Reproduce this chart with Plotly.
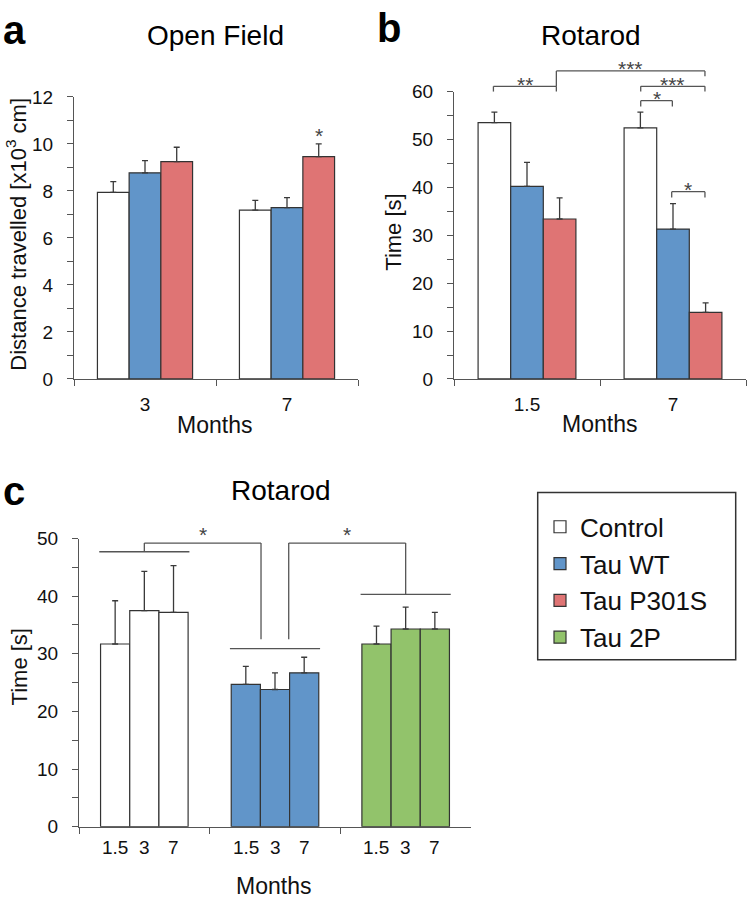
import plotly.graph_objects as go

# ---------------- data ----------------
genotypes_ab = ["Control", "Tau WT", "Tau P301S"]
months_a = ["3", "7"]
months_b = ["1.5", "7"]

openfield_mean = {"Control": [7.94, 7.18], "Tau WT": [8.77, 7.29], "Tau P301S": [9.25, 9.46]}
openfield_sem = {"Control": [0.46, 0.42], "Tau WT": [0.52, 0.43], "Tau P301S": [0.61, 0.54]}

rotarod_b_mean = {"Control": [53.5, 52.4], "Tau WT": [40.2, 31.3], "Tau P301S": [33.4, 13.9]}
rotarod_b_sem = {"Control": [2.2, 3.3], "Tau WT": [5.0, 5.3], "Tau P301S": [4.4, 2.0]}

genotypes_c = ["Control", "Tau WT", "Tau 2P"]
months_c = ["1.5", "3", "7"]
rotarod_c_mean = {"1.5": [31.7, 24.7, 31.7], "3": [37.5, 23.8, 34.3], "7": [37.2, 26.7, 34.3]}
rotarod_c_sem = {"1.5": [7.5, 3.1, 3.1], "3": [6.8, 2.9, 3.8], "7": [8.1, 2.7, 2.9]}

colors = {"Control": "#ffffff", "Tau WT": "#6195c9", "Tau P301S": "#df7474", "Tau 2P": "#92c36b"}

# ---------------- style ----------------
W, H = 750, 909
FONT = "Liberation Sans, Arial, sans-serif"
EDGE = "#333333"
AX = "#555555"
BARGAP = 0.33
BW = (1 - BARGAP) / 3  # bar width in category units


def px(x):
    return x / W


def py(y):
    return 1 - y / H


fig = go.Figure()

err_style = dict(type="data", symmetric=False, color="#3a3a3a", thickness=1.3, width=3)

for g in genotypes_ab:
    fig.add_trace(go.Bar(
        x=months_a, y=openfield_mean[g], name=g, legendgroup=g, showlegend=True,
        marker=dict(color=colors[g], line=dict(color=EDGE, width=1.2)),
        error_y=dict(array=openfield_sem[g], arrayminus=[0] * len(months_a), **err_style),
        xaxis="x", yaxis="y"))
for g in genotypes_ab:
    fig.add_trace(go.Bar(
        x=months_b, y=rotarod_b_mean[g], name=g, legendgroup=g, showlegend=False,
        marker=dict(color=colors[g], line=dict(color=EDGE, width=1.2)),
        error_y=dict(array=rotarod_b_sem[g], arrayminus=[0] * len(months_b), **err_style),
        xaxis="x2", yaxis="y2"))
for i, m in enumerate(months_c):
    fig.add_trace(go.Bar(
        x=genotypes_c, y=rotarod_c_mean[m], name=m, showlegend=False, offsetgroup=str(i),
        marker=dict(color=[colors[g] for g in genotypes_c], line=dict(color=EDGE, width=1.2)),
        error_y=dict(array=rotarod_c_sem[m], arrayminus=[0] * len(genotypes_c), **err_style),
        xaxis="x3", yaxis="y3"))
# legend entry for Tau 2P (no drawn bar)
fig.add_trace(go.Bar(x=[genotypes_c[2]], y=[None], name="Tau 2P", showlegend=True, offsetgroup="0",
                     marker=dict(color=colors["Tau 2P"], line=dict(color=EDGE, width=1.2)),
                     xaxis="x3", yaxis="y3"))

xcommon = dict(type="category", showline=True, linecolor=AX, linewidth=1.3, ticks="outside",
               tickson="boundaries", ticklen=6, tickcolor=AX, tickwidth=1.3,
               tickfont=dict(size=19, color="#111", family=FONT), showgrid=False, zeroline=False,
               ticklabelstandoff=8)
ycommon = dict(showline=True, linecolor=AX, linewidth=1.3, ticks="outside", ticklen=6,
               tickcolor=AX, tickwidth=1.3, tickfont=dict(size=19, color="#111", family=FONT),
               showgrid=False, zeroline=False, ticklabelstandoff=10)

fig.update_layout(
    width=W, height=H, margin=dict(l=0, r=0, t=0, b=0),
    paper_bgcolor="white", plot_bgcolor="white",
    font=dict(family=FONT, color="#111"),
    barmode="group", bargap=BARGAP, bargroupgap=0,
    xaxis=dict(domain=[px(74), px(358)], anchor="y", **xcommon),
    yaxis=dict(domain=[py(377.7), py(89)], anchor="x", range=[0, 12], dtick=2,
               minor=dict(dtick=1, ticks="outside", ticklen=6, tickcolor=AX, tickwidth=1.3), **ycommon),
    xaxis2=dict(domain=[px(454), px(746)], anchor="y2", **xcommon),
    yaxis2=dict(domain=[py(377.7), py(83.5)], anchor="x2", range=[0, 60], dtick=10,
                minor=dict(dtick=5, ticks="outside", ticklen=6, tickcolor=AX, tickwidth=1.3), **ycommon),
    xaxis3=dict(domain=[px(79), px(471)], anchor="y3", **{**xcommon, "showticklabels": False}),
    yaxis3=dict(domain=[py(836), py(541)], anchor="x3", range=[0, 50], dtick=10,
                minor=dict(dtick=5, ticks="outside", ticklen=6, tickcolor=AX, tickwidth=1.3), **ycommon),
    legend=dict(x=px(540), y=py(505), xanchor="left", yanchor="top", bgcolor="rgba(0,0,0,0)",
                borderwidth=0, font=dict(size=26, family=FONT, color="#111"), traceorder="normal",
                tracegroupgap=0),
    showlegend=True,
)

shapes = []
# legend frame
shapes.append(dict(type="rect", xref="paper", yref="paper", x0=px(537.7), x1=px(735.7),
                   y0=py(665), y1=py(494), line=dict(color="#333", width=1.5)))

LINE = dict(color="#555555", width=1.3)


def seg(xref, yref, x0, y0, x1, y1):
    shapes.append(dict(type="line", xref=xref, yref=yref, x0=x0, y0=y0, x1=x1, y1=y1, line=LINE))


# panel b brackets (y in domain fraction of 0-60 axis)
YB = 60.0


def bracket_b(xl, xr, top, yl, yr):
    seg("x2", "y2 domain", xl, top / YB, xr, top / YB)
    seg("x2", "y2 domain", xl, top / YB, xl, yl / YB)
    seg("x2", "y2 domain", xr, top / YB, xr, yr / YB)


b_brackets = [
    # (x left, x right, top, left leg end, right leg end, label)
    (0 - BW * 1.03, 0 + BW * 0.9, 61.1, 60.0, 60.0, "**"),
    (0 + BW * 0.9, 1 + BW * 0.98, 64.3, 61.1, 63.2, "***"),
    (1 - BW * 0.99, 1 + BW * 0.98, 61.1, 60.0, 60.0, "***"),
    (1 - BW * 0.99, 1 - BW * 0.02, 58.1, 56.9, 56.9, "*"),
    (1 - BW * 0.04, 1 + BW * 0.98, 39.1, 37.9, 37.9, "*"),
]

annotations = []
STAR = dict(size=21, family=FONT, color="#444")
for xl, xr, top, yl, yr, lab in b_brackets:
    bracket_b(xl, xr, top, yl, yr)
    annotations.append(dict(xref="x2", yref="y2 domain", x=(xl + xr) / 2, y=top / YB, text=lab,
                            showarrow=False, yanchor="middle", xanchor="center", yshift=2, font=STAR))

# panel a star
annotations.append(dict(xref="x", yref="y domain", x=1 + BW, y=10.0 / 12, text="*", showarrow=False,
                        yanchor="middle", yshift=8, font=STAR))

# panel c brackets
HW = 0.345
seg("x3", "y3", 0 - HW, 47.7, 0 + HW, 47.7)
seg("x3", "y3", 1 - HW, 30.9, 1 + HW, 30.9)
seg("x3", "y3", 2 - HW, 40.3, 2 + HW, 40.3)
seg("x3", "y3", 0, 47.7, 0, 49.2)
seg("x3", "y3", 0, 49.2, 0.893, 49.2)
seg("x3", "y3", 0.893, 49.2, 0.893, 32.5)
seg("x3", "y3", 1.105, 32.5, 1.105, 49.2)
seg("x3", "y3", 1.105, 49.2, 2, 49.2)
seg("x3", "y3", 2, 49.2, 2, 40.3)
for xm in [(0 + 0.893) / 2, (1.105 + 2) / 2]:
    annotations.append(dict(xref="x3", yref="y3 domain", x=xm, y=49.2 / 50, text="*", showarrow=False,
                            yanchor="middle", yshift=9, font=STAR))

# month labels under panel c bars
for gi, g in enumerate(genotypes_c):
    for mi, m in enumerate(months_c):
        annotations.append(dict(xref="x3", yref="paper", x=gi + (mi - 1) * BW, y=py(857), text=m,
                                showarrow=False, yanchor="middle", xanchor="center",
                                font=dict(size=19, family=FONT, color="#111")))

# panel letters
LET = dict(size=40, family=FONT, color="#000")
for txt, x, y in [("<b>a</b>", 14, 20), ("<b>b</b>", 389, 18), ("<b>c</b>", 14, 492)]:
    annotations.append(dict(xref="paper", yref="paper", x=px(x), y=py(y), text=txt, showarrow=False,
                            xanchor="center", yanchor="middle", font=LET))

# titles
TIT = dict(size=28, family=FONT, color="#000")
for txt, x, y in [("Open Field", 216, 26), ("Rotarod", 591, 26), ("Rotarod", 281, 492)]:
    annotations.append(dict(xref="paper", yref="paper", x=px(x), y=py(y), text=txt, showarrow=False,
                            xanchor="center", yanchor="middle", font=TIT))

# axis titles
AXT = dict(size=22, family=FONT, color="#111")
for txt, x, y in [("Distance travelled [x10<sup>3</sup> cm]", 16, 230), ("Time [s]", 394, 228),
                  ("Time [s]", 19, 673)]:
    annotations.append(dict(xref="paper", yref="paper", x=px(x), y=py(y), text=txt, showarrow=False,
                            xanchor="center", yanchor="middle", textangle=-90, font=AXT))
for x, y in [(214, 425), (599, 424), (273, 897)]:
    annotations.append(dict(xref="paper", yref="paper", x=px(x), y=py(y), text="Months", showarrow=False,
                            xanchor="center", yanchor="middle", font=dict(size=23, family=FONT, color="#111")))

fig.update_layout(shapes=shapes, annotations=annotations)
fig.write_html("out.html", config={"displayModeBar": False},
               post_script="document.body.style.margin='0';document.body.style.overflow='hidden';")
